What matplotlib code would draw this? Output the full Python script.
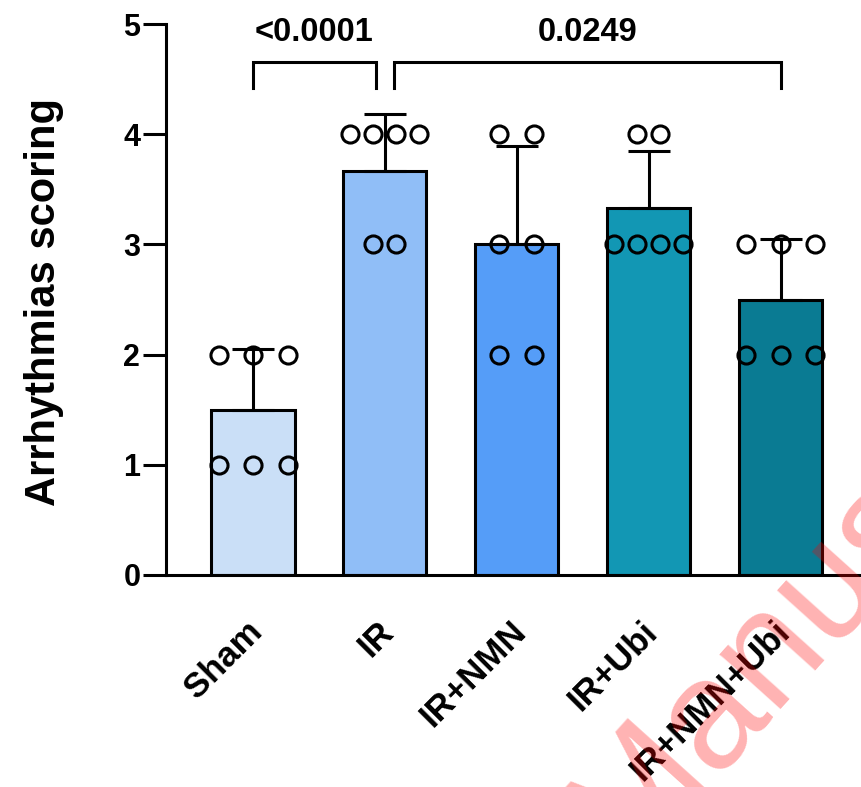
import numpy as np
import matplotlib
matplotlib.use("Agg")
import matplotlib.pyplot as plt
from matplotlib.transforms import ScaledTranslation

plt.rcParams['font.family'] = ['Liberation Sans', 'DejaVu Sans']
plt.rcParams['font.weight'] = 'bold'

categories = ["Sham", "IR", "IR+NMN", "IR+Ubi", "IR+NMN+Ubi"]
sham = [1, 1, 1, 2, 2, 2]
ir = [4, 4, 4, 4, 3, 3]
ir_nmn = [4, 4, 3, 3, 2, 2]
ir_ubi = [4, 4, 3, 3, 3, 3]
ir_nmn_ubi = [3, 3, 3, 2, 2, 2]
groups = [sham, ir, ir_nmn, ir_ubi, ir_nmn_ubi]
colors = ["#CADFF7", "#90BEF7", "#559DF8", "#1297B4", "#0A7B93"]
yticks = [0, 1, 2, 3, 4, 5]
comparisons = [(0, 1, "<0.0001"), (1, 4, "0.0249")]

W, H = 861, 787
fig = plt.figure(figsize=(W / 100, H / 100), dpi=100)
ax = fig.add_axes([166 / W, 1 - 575 / H, (W - 166) / W, (575 - 24) / H])

lw = 2.2
x = np.arange(len(categories))
means = [np.mean(g) for g in groups]
sds = [np.std(g, ddof=1) for g in groups]

ax.bar(x, means, width=0.63, color=colors, edgecolor="black", linewidth=lw, zorder=2)
ax.errorbar(x, means, yerr=[np.zeros(len(x)), sds], fmt="none", ecolor="black",
            elinewidth=lw, capsize=15, capthick=lw, zorder=3)

# scatter points, spread horizontally like GraphPad
for i, g in enumerate(groups):
    vals, counts = np.unique(g, return_counts=True)
    maxk = counts.max()
    spacing = min(0.265, 0.523 / max(maxk - 1, 1))
    for v, k in zip(vals, counts):
        offs = (np.arange(k) - (k - 1) / 2) * spacing
        ax.plot(i + offs, [v] * k, linestyle="none", marker="o", markersize=12.3,
                markerfacecolor="none", markeredgecolor="black", markeredgewidth=lw,
                zorder=4, clip_on=False)

ax.set_xlim(-0.66, 4.61)
ax.set_ylim(0, 5)
ax.set_yticks(yticks)
ax.set_yticklabels([str(t) for t in yticks], fontsize=22, fontweight="bold")
ax.tick_params(axis="y", length=16.5, width=lw, pad=2)
ax.tick_params(axis="x", length=0, pad=37)
ax.set_xticks(x)
ax.set_xticklabels(categories, rotation=45, ha="right", va="center",
                   rotation_mode="anchor", fontsize=25, fontweight="bold")
for lab in ax.get_xticklabels():
    lab.set_transform(lab.get_transform() + ScaledTranslation(4 / 100, 0, fig.dpi_scale_trans))

for s in ["top", "right"]:
    ax.spines[s].set_visible(False)
for s in ["left", "bottom"]:
    ax.spines[s].set_linewidth(lw)

# significance brackets
ybar, yleg = 4.655, 4.42
for a, b, txt in comparisons:
    xa = a + (0.07 if a == 1 else 0)
    xb = b - (0.07 if b == 1 else 0)
    ax.plot([xa, xa, xb, xb], [yleg, ybar, ybar, yleg], color="black", lw=lw,
            clip_on=False, solid_joinstyle="miter")
    ax.text((xa + xb) / 2, 4.92, txt, ha="center", va="center", fontsize=23.5,
            fontweight="bold", clip_on=False)

fig.text(44 / W, 1 - 302 / H, "Arrhythmias scoring", rotation=90, ha="center",
         va="center", fontsize=30, fontweight="bold")

# watermark
fig.text(625 / W, 1 - 868 / H, "Manuscript", rotation=48, rotation_mode="anchor",
         ha="left", va="baseline", fontsize=112, color="red", alpha=0.3,
         fontweight="normal", zorder=10)

fig.savefig("out.png", dpi=100)
